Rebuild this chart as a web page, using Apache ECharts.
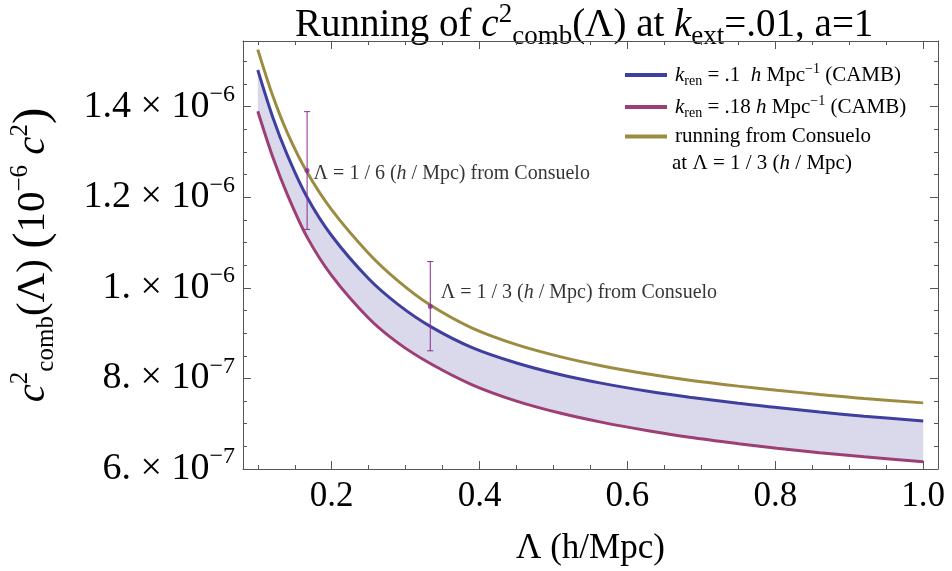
<!DOCTYPE html>
<html>
<head>
<meta charset="utf-8">
<script src="https://cdn.jsdelivr.net/npm/echarts@6/dist/echarts.min.js"></script>
<style>
  html, body { margin: 0; padding: 0; background: #fff; }
  #chart { width: 952px; height: 571px; }
</style>
</head>
<body>
<div id="chart"></div>
<script>
// values in units of 1e-7 (c^2)
var lambdaVals = [0.1, 0.12, 0.14, 0.1667, 0.2, 0.25, 0.29, 0.3333, 0.39, 0.45, 0.51, 0.566, 0.63, 0.684, 0.75, 0.802, 0.86, 0.92, 1.0];
var camb01   = [14.81, 13.78, 12.93, 12.00, 11.15, 10.20, 9.63, 9.15, 8.68, 8.34, 8.08, 7.89, 7.71, 7.585, 7.45, 7.36, 7.26, 7.165, 7.06];
var camb018  = [13.90, 12.90, 12.06, 11.12, 10.27, 9.33, 8.78, 8.33, 7.86, 7.50, 7.23, 7.03, 6.84, 6.70, 6.56, 6.46, 6.36, 6.27, 6.16];
var consuelo = [15.26, 14.25, 13.42, 12.55, 11.72, 10.76, 10.15, 9.62, 9.11, 8.745, 8.475, 8.275, 8.09, 7.96, 7.83, 7.74, 7.645, 7.555, 7.46];

var pointLambda = [0.1667, 0.3333];
var pointValue  = [12.59, 9.59];
var pointLow    = [11.29, 8.61];
var pointHigh   = [13.89, 10.58];
var pointText   = ['1 / 6', '1 / 3'];

var xMajor = [0.2, 0.4, 0.6, 0.8, 1.0];
var xMinor = [0.1, 0.15, 0.25, 0.3, 0.35, 0.45, 0.5, 0.55, 0.65, 0.7, 0.75, 0.85, 0.9, 0.95];
var yMajor = [6, 8, 10, 12, 14];
var yMajorMant = ['6.', '8.', '1.', '1.2', '1.4'];
var yMajorExp  = ['\u22127', '\u22127', '\u22126', '\u22126', '\u22126'];
var yMinor = [6.5, 7, 7.5, 8.5, 9, 9.5, 10.5, 11, 11.5, 12.5, 13, 13.5, 14.5, 15];

var serif = 'Liberation Serif';
var blue = '#3f3f9f', magenta = '#9d3f74', gold = '#9c8c42', purple = '#8a2a92';
var fill = '#d9d9eb';
var frameColor = '#555';

// rich text pieces at a given base size
function richSet(size, k) {
  k = k || 0.62;
  var s = Math.round(size * k);
  var lh = Math.round(size * 1.25);
  function st(o) {
    return Object.assign({ fontFamily: serif, fontWeight: 'normal', color: '#000' }, o);
  }
  return {
    n:   st({ fontSize: size, lineHeight: lh }),
    i:   st({ fontSize: size, fontStyle: 'italic', lineHeight: lh }),
    sup: st({ fontSize: s, lineHeight: s, verticalAlign: 'top' }),
    sub: st({ fontSize: s, lineHeight: s, verticalAlign: 'bottom' }),
    p:   st({ fontSize: Math.round(size * 1.2), lineHeight: lh })
  };
}

function xAxisDef(pos, ticks, len, main) {
  return {
    type: 'value', min: 0.08, max: 1.02, position: pos, z: 10,
    axisLine: { show: main, lineStyle: { color: frameColor, width: 1 } },
    splitLine: { show: false },
    axisTick: { show: true, inside: true, length: len, customValues: ticks, lineStyle: { color: frameColor } },
    axisLabel: { show: false }
  };
}
function yAxisDef(pos, ticks, len, main) {
  return {
    type: 'value', min: 6, max: 15.45, position: pos, z: 10,
    axisLine: { show: main, lineStyle: { color: frameColor, width: 1 } },
    splitLine: { show: false },
    axisTick: { show: true, inside: true, length: len, customValues: ticks, lineStyle: { color: frameColor } },
    axisLabel: { show: false }
  };
}

var xMain = xAxisDef('bottom', xMajor, 8, true);
xMain.axisLabel = {
  show: true, customValues: xMajor, margin: 10,
  fontFamily: serif, fontSize: 35, color: '#000',
  formatter: function (v) { return v.toFixed(1); }
};
xMain.name = '\u039b (h/Mpc)';
xMain.nameLocation = 'middle';
xMain.nameGap = 62;
xMain.nameTextStyle = { fontFamily: serif, fontSize: 35, color: '#000' };

var yMain = yAxisDef('left', yMajor, 8, true);
yMain.axisLabel = {
  show: true, customValues: yMajor, margin: 8,
  formatter: function (v) {
    var k = yMajor.indexOf(Math.round(v * 100) / 100);
    if (k < 0) return '';
    return '{n|' + yMajorMant[k] + ' \u00d7 10}{sup|' + yMajorExp[k] + '}';
  },
  rich: richSet(38)
};
yMain.name = '{i|c}{sup|2}{sub|comb}{n|(\u039b) }{p|(}{n|10}{sup|\u22126}{n| }{i|c}{sup|2}{p|)}';
yMain.nameLocation = 'middle';
yMain.nameRotate = 90;
yMain.nameGap = 184;
yMain.nameTextStyle = { rich: richSet(41) };

var lineBase = { type: 'line', smooth: 0.3, symbol: 'none', showSymbol: false };

function pairs(ys) {
  return lambdaVals.map(function (x, i) { return [x, ys[i]]; });
}

var chart = echarts.init(document.getElementById('chart'));
chart.setOption({
  backgroundColor: '#fff',
  animation: false,
  title: {
    left: 290, top: -4,
    text: '{n|Running of }{i|c}{sup|2}{sub|comb}{n|(\u039b) at }{i|k}{sub|ext}{n|=.01, a=1}',
    textStyle: { rich: richSet(39, 0.68) }
  },
  grid: { left: 242, right: 14, top: 41, bottom: 100 },
  legend: {
    orient: 'vertical', left: 620, top: 57,
    icon: 'rect', itemWidth: 42, itemHeight: 4, itemGap: 6,
    data: ['kb', 'km', 'kc'],
    formatter: function (name) {
      if (name === 'kb') return '{i|k}{sub|ren}{n| = .1  }{i|h}{n| Mpc}{sup|\u22121}{n| (CAMB)}';
      if (name === 'km') return '{i|k}{sub|ren}{n| = .18 }{i|h}{n| Mpc}{sup|\u22121}{n| (CAMB)}';
      return '{n|running from Consuelo}';
    },
    textStyle: { rich: richSet(21, 0.66), padding: [0, 0, 0, 3] }
  },
  graphic: [{
    type: 'text', left: 672, top: 153,
    style: {
      text: '{n|at \u039b = 1 / 3 (}{i|h}{n| / Mpc)}',
      rich: richSet(21)
    }
  }],
  xAxis: [xMain, xAxisDef('bottom', xMinor, 4, false), xAxisDef('top', xMajor, 8, true), xAxisDef('top', xMinor, 4, false)],
  yAxis: [yMain, yAxisDef('left', yMinor, 4, false), yAxisDef('right', yMajor, 8, true), yAxisDef('right', yMinor, 4, false)],
  series: [
    // band: blue curve filled down, then covered in white under the magenta curve
    Object.assign({}, lineBase, {
      name: 'kb', data: pairs(camb01), color: blue,
      lineStyle: { width: 3, color: blue },
      areaStyle: { origin: 'start', color: fill, opacity: 1 }, z: 2
    }),
    Object.assign({}, lineBase, {
      name: 'km', data: pairs(camb018), color: magenta,
      lineStyle: { width: 3, color: magenta },
      areaStyle: { origin: 'start', color: '#fff', opacity: 1, shadowColor: '#fff', shadowBlur: 0, shadowOffsetX: -2 }, z: 3
    }),
    Object.assign({}, lineBase, { name: 'kc', data: pairs(consuelo), color: gold, lineStyle: { width: 3, color: gold }, z: 4 }),
    {
      type: 'custom', z: 5,
      data: pointLambda.map(function (x, i) { return [x, pointLow[i], pointHigh[i]]; }),
      encode: { x: 0, y: [1, 2] },
      renderItem: function (params, api) {
        var lo = api.coord([api.value(0), api.value(1)]);
        var hi = api.coord([api.value(0), api.value(2)]);
        var w = 3, st = { stroke: purple, lineWidth: 1 };
        return {
          type: 'group', children: [
            { type: 'line', shape: { x1: lo[0], y1: lo[1], x2: hi[0], y2: hi[1] }, style: st },
            { type: 'line', shape: { x1: lo[0] - w, y1: lo[1], x2: lo[0] + w, y2: lo[1] }, style: st },
            { type: 'line', shape: { x1: hi[0] - w, y1: hi[1], x2: hi[0] + w, y2: hi[1] }, style: st }
          ]
        };
      }
    },
    {
      type: 'scatter', z: 6, symbolSize: 5,
      itemStyle: { color: purple },
      data: pointLambda.map(function (x, i) {
        return { value: [x, pointValue[i]], label: { offset: i === 1 ? [4, -14] : [0, 3] } };
      }),
      label: {
        show: true, position: 'right', distance: 4,
        formatter: function (p) {
          return '{n|\u039b = ' + pointText[p.dataIndex] + ' (}{i|h}{n| / Mpc) from Consuelo}';
        },
        rich: richSet(20)
      }
    }
  ]
});
</script>
</body>
</html>
